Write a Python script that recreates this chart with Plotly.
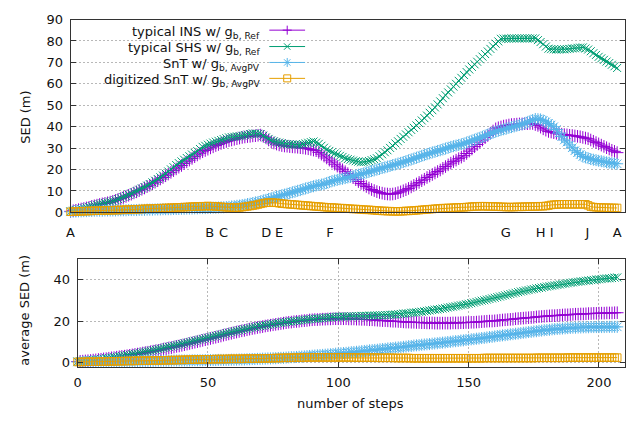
import plotly.graph_objects as go

W, H = 635, 422

# ---------------- data ----------------
steps = list(range(208))

ins_sed = [
    0.5, 0.8, 1.0, 1.3, 1.6, 1.8, 2.1, 2.4, 2.8, 3.1,
    3.4, 3.7, 4.0, 4.2, 4.5, 4.8, 5.2, 5.6, 6.1, 6.5,
    7.0, 7.5, 8.0, 8.5, 9.1, 9.6, 10.2, 10.8, 11.4, 12.1,
    12.7, 13.4, 14.1, 14.8, 15.6, 16.3, 17.1, 17.9, 18.7, 19.5,
    20.3, 21.1, 21.9, 22.8, 23.6, 24.4, 25.2, 26.0, 26.8, 27.6,
    28.3, 28.9, 29.5, 30.1, 30.6, 31.2, 31.7, 32.2, 32.7, 33.1,
    33.5, 33.8, 34.1, 34.4, 34.7, 35.0, 35.2, 35.4, 35.5, 35.7,
    35.8, 36.0, 36.1, 35.5, 34.8, 33.8, 32.9, 32.4, 31.9, 31.5,
    31.2, 31.0, 30.9, 30.7, 30.6, 30.5, 30.4, 30.2, 30.1, 29.9,
    29.7, 29.4, 29.1, 28.8, 28.0, 27.2, 26.3, 25.4, 24.4, 23.5,
    22.5, 21.6, 20.7, 19.9, 19.0, 18.1, 17.2, 16.2, 15.3, 14.4,
    13.5, 12.8, 12.1, 11.4, 10.7, 10.2, 9.7, 9.3, 9.0, 8.7,
    8.6, 8.5, 8.6, 8.8, 9.2, 9.6, 10.1, 10.6, 11.2, 11.9,
    12.6, 13.3, 14.0, 14.8, 15.5, 16.3, 17.0, 17.7, 18.4, 19.1,
    19.8, 20.6, 21.4, 22.2, 23.0, 23.7, 24.4, 25.1, 25.8, 26.5,
    27.5, 28.6, 29.6, 30.7, 31.7, 32.8, 33.8, 34.9, 35.9, 37.0,
    38.0, 39.0, 39.5, 39.9, 40.3, 40.5, 40.8, 41.0, 41.1, 41.2,
    41.3, 41.3, 41.4, 41.4, 41.5, 41.5, 41.0, 40.6, 39.8, 39.0,
    38.4, 37.8, 37.5, 37.2, 36.9, 36.6, 36.5, 36.3, 36.2, 36.0,
    35.9, 35.7, 35.5, 35.3, 35.0, 34.7, 34.4, 33.8, 33.2, 32.6,
    32.0, 31.4, 30.8, 30.2, 29.6, 29.0, 28.5, 27.9,
]

shs_sed = [
    0.5, 0.8, 1.1, 1.4, 1.7, 2.0, 2.3, 2.6, 3.0, 3.3,
    3.6, 3.9, 4.2, 4.4, 4.7, 5.0, 5.2, 5.7, 6.2, 6.7,
    7.2, 7.7, 8.3, 8.8, 9.4, 10.0, 10.6, 11.2, 11.8, 12.5,
    13.2, 14.0, 14.8, 15.6, 16.4, 17.2, 18.1, 19.1, 20.1, 21.1,
    22.1, 23.0, 23.8, 24.6, 25.4, 26.2, 27.0, 27.8, 28.6, 29.6,
    30.6, 31.1, 31.6, 32.1, 32.6, 33.0, 33.4, 33.8, 34.2, 34.6,
    35.0, 35.2, 35.3, 35.5, 35.6, 35.8, 36.1, 36.3, 36.6, 36.9,
    36.8, 36.7, 36.6, 35.8, 35.0, 34.3, 33.6, 33.2, 32.9, 32.6,
    32.3, 32.0, 31.9, 31.8, 31.7, 31.6, 31.6, 31.6, 31.9, 32.2,
    32.5, 32.8, 33.1, 32.6, 32.0, 31.1, 30.2, 29.3, 28.7, 28.1,
    27.5, 27.0, 26.4, 25.9, 25.3, 24.9, 24.6, 24.2, 23.9, 23.7,
    23.4, 23.5, 23.7, 24.0, 24.4, 24.8, 25.3, 26.2, 27.1, 28.1,
    29.0, 30.1, 31.1, 32.2, 33.2, 34.3, 35.3, 36.4, 37.4, 38.5,
    39.5, 40.6, 41.7, 42.9, 44.0, 45.2, 46.5, 47.7, 49.0, 50.4,
    51.8, 53.3, 54.7, 56.0, 57.4, 58.7, 60.0, 61.4, 62.8, 64.1,
    65.5, 66.7, 67.9, 69.1, 70.3, 71.5, 72.7, 73.9, 75.1, 76.3,
    77.5, 78.7, 79.8, 81.0, 81.1, 81.1, 81.1, 81.2, 81.2, 81.2,
    81.2, 81.2, 81.2, 81.2, 81.2, 81.2, 81.2, 80.4, 79.5, 78.5,
    77.4, 76.4, 76.2, 76.1, 76.0, 76.0, 76.1, 76.1, 76.2, 76.3,
    76.5, 76.6, 76.8, 76.9, 77.0, 76.5, 76.0, 75.2, 74.3, 73.5,
    72.6, 71.9, 71.2, 70.4, 69.7, 68.9, 68.2, 67.4,
]

snt_sed = [
    0.3, 0.4, 0.4, 0.5, 0.5, 0.6, 0.6, 0.7, 0.7, 0.8,
    0.8, 0.8, 0.8, 0.9, 0.9, 0.9, 0.9, 0.9, 1.0, 1.0,
    1.0, 1.0, 1.1, 1.1, 1.1, 1.1, 1.2, 1.2, 1.2, 1.3,
    1.3, 1.3, 1.4, 1.4, 1.4, 1.5, 1.5, 1.5, 1.5, 1.6,
    1.6, 1.6, 1.7, 1.7, 1.8, 1.8, 1.8, 1.9, 1.9, 2.0,
    2.0, 2.0, 2.1, 2.1, 2.2, 2.2, 2.3, 2.4, 2.4, 2.5,
    2.6, 2.8, 2.9, 3.1, 3.2, 3.4, 3.6, 3.9, 4.1, 4.4,
    4.7, 4.9, 5.2, 5.6, 5.9, 6.3, 6.6, 7.0, 7.3, 7.7,
    8.0, 8.3, 8.7, 9.0, 9.4, 9.7, 10.1, 10.4, 10.8, 11.2,
    11.5, 11.9, 12.2, 12.6, 12.8, 13.0, 13.2, 13.7, 14.2, 14.6,
    14.9, 15.2, 15.5, 15.7, 16.0, 16.3, 16.6, 16.9, 17.3, 17.6,
    17.9, 18.2, 18.6, 18.9, 19.3, 19.6, 20.0, 20.3, 20.7, 21.0,
    21.4, 21.7, 22.1, 22.4, 22.8, 23.1, 23.5, 23.9, 24.3, 24.7,
    25.1, 25.5, 25.9, 26.4, 26.8, 27.2, 27.6, 28.0, 28.3, 28.7,
    29.0, 29.4, 29.8, 30.2, 30.6, 30.9, 31.2, 31.5, 31.8, 32.1,
    32.6, 33.0, 33.5, 33.9, 34.4, 34.8, 35.3, 35.8, 36.3, 36.8,
    37.2, 37.7, 38.1, 38.4, 38.8, 39.1, 39.5, 39.8, 40.1, 40.5,
    40.8, 41.1, 41.6, 42.1, 42.6, 43.1, 43.6, 43.5, 43.4, 42.9,
    42.3, 41.5, 40.8, 40.0, 38.7, 37.0, 35.4, 33.8, 32.8, 31.5,
    30.2, 28.8, 27.9, 27.0, 26.1, 25.7, 25.3, 24.9, 24.6, 24.4,
    24.1, 23.9, 23.7, 23.4, 23.2, 23.0, 22.9, 22.7,
]

dig_sed = [
    0.3, 0.4, 0.4, 0.5, 0.5, 0.6, 0.6, 0.7, 0.7, 0.8,
    0.8, 0.8, 0.9, 0.9, 1.0, 1.0, 1.0, 1.1, 1.1, 1.2,
    1.2, 1.3, 1.3, 1.4, 1.4, 1.5, 1.5, 1.6, 1.7, 1.7,
    1.8, 1.8, 1.9, 1.9, 2.0, 2.0, 2.1, 2.1, 2.2, 2.2,
    2.3, 2.4, 2.4, 2.5, 2.5, 2.6, 2.7, 2.7, 2.8, 2.8,
    2.9, 2.9, 3.0, 2.9, 2.9, 2.8, 2.7, 2.6, 2.5, 2.4,
    2.3, 2.3, 2.2, 2.2, 2.3, 2.5, 2.6, 2.8, 3.0, 3.2,
    3.4, 3.7, 4.0, 4.3, 4.5, 4.6, 4.6, 4.5, 4.5, 4.3,
    4.1, 4.0, 3.9, 3.8, 3.7, 3.6, 3.5, 3.4, 3.3, 3.2,
    3.1, 3.0, 2.9, 2.8, 2.7, 2.6, 2.5, 2.4, 2.3, 2.3,
    2.2, 2.1, 2.0, 2.0, 1.9, 1.8, 1.7, 1.6, 1.6, 1.5,
    1.4, 1.3, 1.2, 1.2, 1.1, 1.0, 0.9, 0.8, 0.7, 0.7,
    0.6, 0.6, 0.5, 0.5, 0.5, 0.5, 0.6, 0.7, 0.7, 0.8,
    0.9, 1.0, 1.1, 1.2, 1.3, 1.4, 1.5, 1.6, 1.7, 1.8,
    1.9, 2.0, 2.0, 2.1, 2.1, 2.2, 2.3, 2.3, 2.4, 2.4,
    2.5, 2.6, 2.7, 2.8, 2.8, 2.9, 2.9, 2.9, 2.8, 2.8,
    2.8, 2.7, 2.7, 2.6, 2.6, 2.5, 2.5, 2.5, 2.5, 2.6,
    2.6, 2.6, 2.7, 2.7, 2.7, 2.8, 2.8, 2.8, 2.9, 2.9,
    3.0, 3.2, 3.5, 3.6, 3.7, 3.8, 3.8, 3.8, 3.8, 3.8,
    3.8, 3.8, 3.8, 3.8, 3.8, 3.8, 3.3, 2.7, 2.5, 2.4,
    2.3, 2.3, 2.2, 2.2, 2.2, 2.1, 2.1, 2.1,
]

ins_avg = [
    0.5, 0.6, 0.7, 0.8, 0.9, 1.0, 1.2, 1.3, 1.5, 1.6,
    1.8, 1.9, 2.1, 2.3, 2.4, 2.6, 2.8, 3.0, 3.1, 3.3,
    3.5, 3.7, 3.9, 4.1, 4.3, 4.6, 4.8, 5.0, 5.2, 5.5,
    5.7, 5.9, 6.2, 6.5, 6.7, 7.0, 7.2, 7.5, 7.8, 8.0,
    8.3, 8.6, 8.9, 9.2, 9.5, 9.8, 10.1, 10.4, 10.7, 11.0,
    11.3, 11.6, 11.9, 12.2, 12.5, 12.8, 13.2, 13.5, 13.8, 14.1,
    14.4, 14.7, 15.0, 15.3, 15.5, 15.8, 16.1, 16.4, 16.6, 16.9,
    17.1, 17.3, 17.6, 17.8, 18.0, 18.2, 18.4, 18.6, 18.8, 19.0,
    19.2, 19.4, 19.5, 19.7, 19.8, 19.9, 20.1, 20.2, 20.3, 20.5,
    20.6, 20.7, 20.7, 20.8, 20.9, 20.9, 21.0, 21.0, 21.1, 21.1,
    21.1, 21.1, 21.1, 21.1, 21.0, 21.0, 21.0, 20.9, 20.9, 20.8,
    20.8, 20.7, 20.6, 20.6, 20.5, 20.4, 20.3, 20.2, 20.2, 20.1,
    20.0, 19.9, 19.9, 19.8, 19.7, 19.6, 19.5, 19.5, 19.4, 19.4,
    19.3, 19.3, 19.2, 19.2, 19.1, 19.1, 19.1, 19.0, 19.0, 19.0,
    19.0, 19.0, 19.0, 19.0, 19.1, 19.1, 19.1, 19.2, 19.2, 19.3,
    19.3, 19.4, 19.4, 19.5, 19.6, 19.7, 19.8, 19.9, 20.0, 20.0,
    20.1, 20.2, 20.4, 20.5, 20.6, 20.7, 20.8, 20.9, 21.1, 21.2,
    21.3, 21.4, 21.5, 21.6, 21.7, 21.8, 22.0, 22.1, 22.2, 22.3,
    22.4, 22.5, 22.6, 22.6, 22.7, 22.8, 22.9, 23.0, 23.0, 23.1,
    23.2, 23.3, 23.3, 23.4, 23.4, 23.5, 23.6, 23.6, 23.7, 23.7,
    23.8, 23.8, 23.8, 23.9, 23.9, 23.9, 24.0, 24.0,
]

shs_avg = [
    0.5, 0.6, 0.7, 0.8, 1.0, 1.1, 1.2, 1.4, 1.5, 1.7,
    1.9, 2.1, 2.2, 2.4, 2.6, 2.8, 3.0, 3.2, 3.4, 3.6,
    3.8, 4.0, 4.2, 4.4, 4.7, 4.9, 5.2, 5.4, 5.7, 5.9,
    6.2, 6.5, 6.7, 7.0, 7.3, 7.6, 7.8, 8.1, 8.4, 8.7,
    9.0, 9.3, 9.6, 9.9, 10.2, 10.5, 10.8, 11.1, 11.4, 11.7,
    12.0, 12.3, 12.6, 12.9, 13.2, 13.5, 13.8, 14.1, 14.4, 14.7,
    15.0, 15.3, 15.5, 15.8, 16.1, 16.3, 16.6, 16.9, 17.1, 17.4,
    17.6, 17.8, 18.0, 18.2, 18.4, 18.6, 18.8, 19.0, 19.2, 19.4,
    19.5, 19.7, 19.8, 20.0, 20.1, 20.3, 20.4, 20.6, 20.7, 20.9,
    21.0, 21.1, 21.2, 21.3, 21.4, 21.6, 21.7, 21.8, 21.9, 22.0,
    22.1, 22.1, 22.2, 22.2, 22.3, 22.3, 22.3, 22.4, 22.4, 22.5,
    22.5, 22.5, 22.6, 22.6, 22.7, 22.7, 22.8, 22.8, 22.9, 22.9,
    23.0, 23.1, 23.2, 23.3, 23.4, 23.6, 23.7, 23.8, 24.0, 24.1,
    24.2, 24.4, 24.5, 24.7, 24.9, 25.1, 25.3, 25.5, 25.6, 25.8,
    26.0, 26.2, 26.5, 26.7, 26.9, 27.1, 27.4, 27.6, 27.8, 28.1,
    28.3, 28.6, 28.9, 29.2, 29.5, 29.8, 30.0, 30.3, 30.6, 30.9,
    31.2, 31.5, 31.8, 32.1, 32.4, 32.7, 33.0, 33.3, 33.6, 33.9,
    34.2, 34.4, 34.7, 34.9, 35.2, 35.4, 35.7, 35.9, 36.1, 36.4,
    36.6, 36.8, 37.0, 37.2, 37.4, 37.6, 37.8, 38.0, 38.2, 38.4,
    38.6, 38.8, 38.9, 39.1, 39.2, 39.4, 39.5, 39.7, 39.8, 40.0,
    40.1, 40.2, 40.4, 40.5, 40.6, 40.7, 40.9, 41.0,
]

snt_avg = [
    0.3, 0.3, 0.3, 0.3, 0.4, 0.4, 0.4, 0.4, 0.4, 0.5,
    0.5, 0.5, 0.5, 0.5, 0.6, 0.6, 0.6, 0.6, 0.7, 0.7,
    0.7, 0.7, 0.7, 0.7, 0.8, 0.8, 0.8, 0.8, 0.8, 0.8,
    0.9, 0.9, 0.9, 0.9, 0.9, 0.9, 0.9, 1.0, 1.0, 1.0,
    1.0, 1.0, 1.0, 1.0, 1.1, 1.1, 1.1, 1.1, 1.1, 1.2,
    1.2, 1.2, 1.2, 1.2, 1.3, 1.3, 1.3, 1.3, 1.3, 1.4,
    1.4, 1.4, 1.5, 1.5, 1.5, 1.6, 1.6, 1.7, 1.7, 1.8,
    1.8, 1.9, 1.9, 2.0, 2.0, 2.1, 2.1, 2.2, 2.3, 2.3,
    2.4, 2.5, 2.6, 2.6, 2.7, 2.8, 2.9, 3.0, 3.1, 3.2,
    3.3, 3.4, 3.5, 3.6, 3.7, 3.8, 3.9, 4.0, 4.1, 4.3,
    4.4, 4.5, 4.6, 4.7, 4.8, 5.0, 5.1, 5.2, 5.3, 5.5,
    5.6, 5.7, 5.9, 6.0, 6.1, 6.2, 6.4, 6.5, 6.6, 6.8,
    6.9, 7.0, 7.2, 7.3, 7.4, 7.6, 7.7, 7.9, 8.0, 8.2,
    8.3, 8.4, 8.6, 8.7, 8.8, 8.9, 9.1, 9.2, 9.3, 9.5,
    9.6, 9.7, 9.9, 10.0, 10.2, 10.3, 10.4, 10.6, 10.7, 10.9,
    11.0, 11.2, 11.3, 11.5, 11.6, 11.8, 11.9, 12.1, 12.3, 12.4,
    12.6, 12.8, 12.9, 13.1, 13.2, 13.4, 13.6, 13.7, 13.9, 14.0,
    14.2, 14.4, 14.5, 14.7, 14.8, 15.0, 15.1, 15.3, 15.4, 15.6,
    15.7, 15.8, 16.0, 16.1, 16.2, 16.3, 16.4, 16.5, 16.6, 16.7,
    16.8, 16.8, 16.9, 16.9, 17.0, 17.0, 17.0, 17.1, 17.1, 17.1,
    17.1, 17.1, 17.1, 17.2, 17.2, 17.2, 17.2, 17.2,
]

dig_avg = [
    0.3, 0.3, 0.3, 0.4, 0.4, 0.4, 0.4, 0.4, 0.5, 0.5,
    0.5, 0.5, 0.6, 0.6, 0.6, 0.6, 0.7, 0.7, 0.7, 0.8,
    0.8, 0.8, 0.8, 0.9, 0.9, 0.9, 0.9, 0.9, 1.0, 1.0,
    1.0, 1.0, 1.1, 1.1, 1.1, 1.2, 1.2, 1.2, 1.2, 1.3,
    1.3, 1.3, 1.4, 1.4, 1.4, 1.5, 1.5, 1.5, 1.5, 1.6,
    1.6, 1.6, 1.6, 1.7, 1.7, 1.7, 1.7, 1.7, 1.8, 1.8,
    1.8, 1.8, 1.8, 1.8, 1.9, 1.9, 1.9, 1.9, 1.9, 2.0,
    2.0, 2.0, 2.0, 2.1, 2.1, 2.1, 2.2, 2.2, 2.2, 2.3,
    2.3, 2.3, 2.3, 2.4, 2.4, 2.4, 2.4, 2.4, 2.5, 2.5,
    2.5, 2.5, 2.5, 2.5, 2.5, 2.5, 2.5, 2.5, 2.5, 2.5,
    2.5, 2.5, 2.5, 2.5, 2.5, 2.5, 2.4, 2.4, 2.4, 2.4,
    2.4, 2.4, 2.4, 2.4, 2.4, 2.3, 2.3, 2.3, 2.3, 2.3,
    2.3, 2.3, 2.2, 2.2, 2.2, 2.2, 2.2, 2.2, 2.1, 2.1,
    2.1, 2.1, 2.1, 2.1, 2.1, 2.1, 2.1, 2.1, 2.1, 2.1,
    2.1, 2.1, 2.1, 2.1, 2.1, 2.1, 2.1, 2.1, 2.1, 2.1,
    2.1, 2.1, 2.1, 2.1, 2.1, 2.1, 2.2, 2.2, 2.2, 2.2,
    2.2, 2.2, 2.2, 2.2, 2.2, 2.2, 2.2, 2.2, 2.2, 2.2,
    2.2, 2.2, 2.2, 2.2, 2.2, 2.2, 2.3, 2.3, 2.3, 2.3,
    2.3, 2.3, 2.3, 2.3, 2.3, 2.3, 2.3, 2.3, 2.4, 2.4,
    2.4, 2.4, 2.4, 2.4, 2.4, 2.4, 2.4, 2.4, 2.4, 2.4,
    2.4, 2.4, 2.4, 2.4, 2.4, 2.4, 2.4, 2.4,
]

waypoint_steps = [0, 52.7, 57.9, 74.1, 79.0, 98.2, 164.8, 178.0, 182.2, 195.7, 207]
waypoint_labels = ["A", "B", "C", "D", "E", "F", "G", "H", "I", "J", "A"]
grid_steps = [50, 100, 150, 200]
sed_ticks = [0, 10, 20, 30, 40, 50, 60, 70, 80, 90]
avg_ticks = [0, 20, 40]
step_ticks = [0, 50, 100, 150, 200]

series_names = [
    "typical INS w/ g<sub>b, Ref</sub>",
    "typical SHS w/ g<sub>b, Ref</sub>",
    "SnT w/ g<sub>b, AvgPV</sub>",
    "digitized SnT w/ g<sub>b, AvgPV</sub>",
]
top_series = [ins_sed, shs_sed, snt_sed, dig_sed]
bottom_series = [ins_avg, shs_avg, snt_avg, dig_avg]

# ---------------- styles ----------------
colors = ["#9400d3", "#009e73", "#56b4e9", "#e69f00"]
symbols = ["cross-thin", "x-thin", "asterisk", "square-open"]
msizes = [9, 8, 10, 7.5]
FONT = "DejaVu Sans"


def pxx(p):
    return p / W


def pxy(p):
    return 1 - p / H


fig = go.Figure()
for vals, name, c, s, sz in zip(top_series, series_names, colors, symbols, msizes):
    fig.add_trace(go.Scatter(
        x=steps, y=vals, mode="lines+markers", name=name,
        line=dict(color=c, width=1),
        marker=dict(symbol=s, size=sz, color=c, line=dict(color=c, width=1)),
        xaxis="x", yaxis="y", showlegend=False, cliponaxis=False,
    ))
for vals, name, c, s, sz in zip(bottom_series, series_names, colors, symbols, msizes):
    fig.add_trace(go.Scatter(
        x=steps, y=vals, mode="lines+markers", name=name,
        line=dict(color=c, width=1),
        marker=dict(symbol=s, size=sz, color=c, line=dict(color=c, width=1)),
        xaxis="x2", yaxis="y2", showlegend=False, cliponaxis=False,
    ))

tickfont = dict(family=FONT, size=13, color="#111")
common = dict(
    showline=True, linecolor="#333", linewidth=1, mirror="ticks",
    ticks="inside", ticklen=5, tickcolor="#333", tickwidth=1,
    gridcolor="#b8b8b8", griddash="2px,2px", gridwidth=1,
    zeroline=False, tickfont=tickfont,
)

fig.update_layout(
    width=W, height=H, autosize=False,
    margin=dict(l=0, r=0, t=0, b=0),
    paper_bgcolor="white", plot_bgcolor="white",
    showlegend=False,
    xaxis=dict(
        domain=[pxx(67), pxx(625)], anchor="y", range=[0, 210],
        tickmode="array", tickvals=waypoint_steps, ticktext=waypoint_labels,
        showgrid=False, ticks="", showline=True, mirror=True,
        linecolor="#333", linewidth=1, zeroline=False,
        tickfont=tickfont, ticklabelstandoff=8,
    ),
    xaxis3=dict(
        overlaying="x", anchor="y", range=[0, 210],
        tickmode="array", tickvals=grid_steps, showticklabels=False,
        **common,
    ),
    yaxis=dict(
        domain=[pxy(213), pxy(13)], anchor="x", range=[0, 90],
        tickmode="array", tickvals=sed_ticks, ticklabelstandoff=4,
        **common,
    ),
    xaxis2=dict(
        domain=[pxx(74), pxx(625)], anchor="y2", range=[0, 210],
        tickmode="array", tickvals=step_ticks, ticklabelstandoff=4,
        **common,
    ),
    yaxis2=dict(
        domain=[pxy(373), pxy(261)], anchor="x2", range=[-2, 50],
        tickmode="array", tickvals=avg_ticks, ticklabelstandoff=4,
        **common,
    ),
)

# axis titles
title_font = dict(family=FONT, size=13, color="#111")
fig.add_annotation(text="SED (m)", x=pxx(22), y=pxy(114), xref="paper", yref="paper",
                   xanchor="center", yanchor="middle",
                   textangle=-90, showarrow=False, font=title_font)
fig.add_annotation(text="average SED (m)", x=pxx(21), y=pxy(314), xref="paper", yref="paper",
                   xanchor="center", yanchor="middle",
                   textangle=-90, showarrow=False, font=title_font)
fig.add_annotation(text="number of steps", x=pxx(349), y=pxy(411), xref="paper", yref="paper",
                   xanchor="center", yanchor="middle",
                   showarrow=False, font=title_font)

# legend (gnuplot style: right-aligned text, sample to the right)
legend_rows = [24, 41, 57.5, 74]
key_paths = [
    "M-4.5,0L4.5,0M0,-4.5L0,4.5",
    "M-3.2,-3.2L3.2,3.2M-3.2,3.2L3.2,-3.2",
    "M-4.5,0L4.5,0M0,-4.5L0,4.5M-3.2,-3.2L3.2,3.2M-3.2,3.2L3.2,-3.2",
    "M-3.5,-3.5L3.5,-3.5L3.5,3.5L-3.5,3.5Z",
]
for name, c, row, path in zip(series_names, colors, legend_rows, key_paths):
    fig.add_annotation(text=name, x=pxx(260), y=pxy(row + 2), xref="paper", yref="paper",
                       xanchor="right", yanchor="middle", showarrow=False,
                       font=dict(family=FONT, size=13, color="#111"))
    fig.add_shape(type="line", xref="paper", yref="paper",
                  x0=pxx(267), x1=pxx(303), y0=pxy(row), y1=pxy(row),
                  line=dict(color=c, width=1))
    fig.add_shape(type="path", xref="paper", yref="paper",
                  xsizemode="pixel", ysizemode="pixel",
                  xanchor=pxx(285), yanchor=pxy(row), path=path,
                  line=dict(color=c, width=1))

fig.write_html(
    "out.html",
    config={"displayModeBar": False},
    post_script="document.body.style.margin='0px';document.body.style.overflow='hidden';",
)
